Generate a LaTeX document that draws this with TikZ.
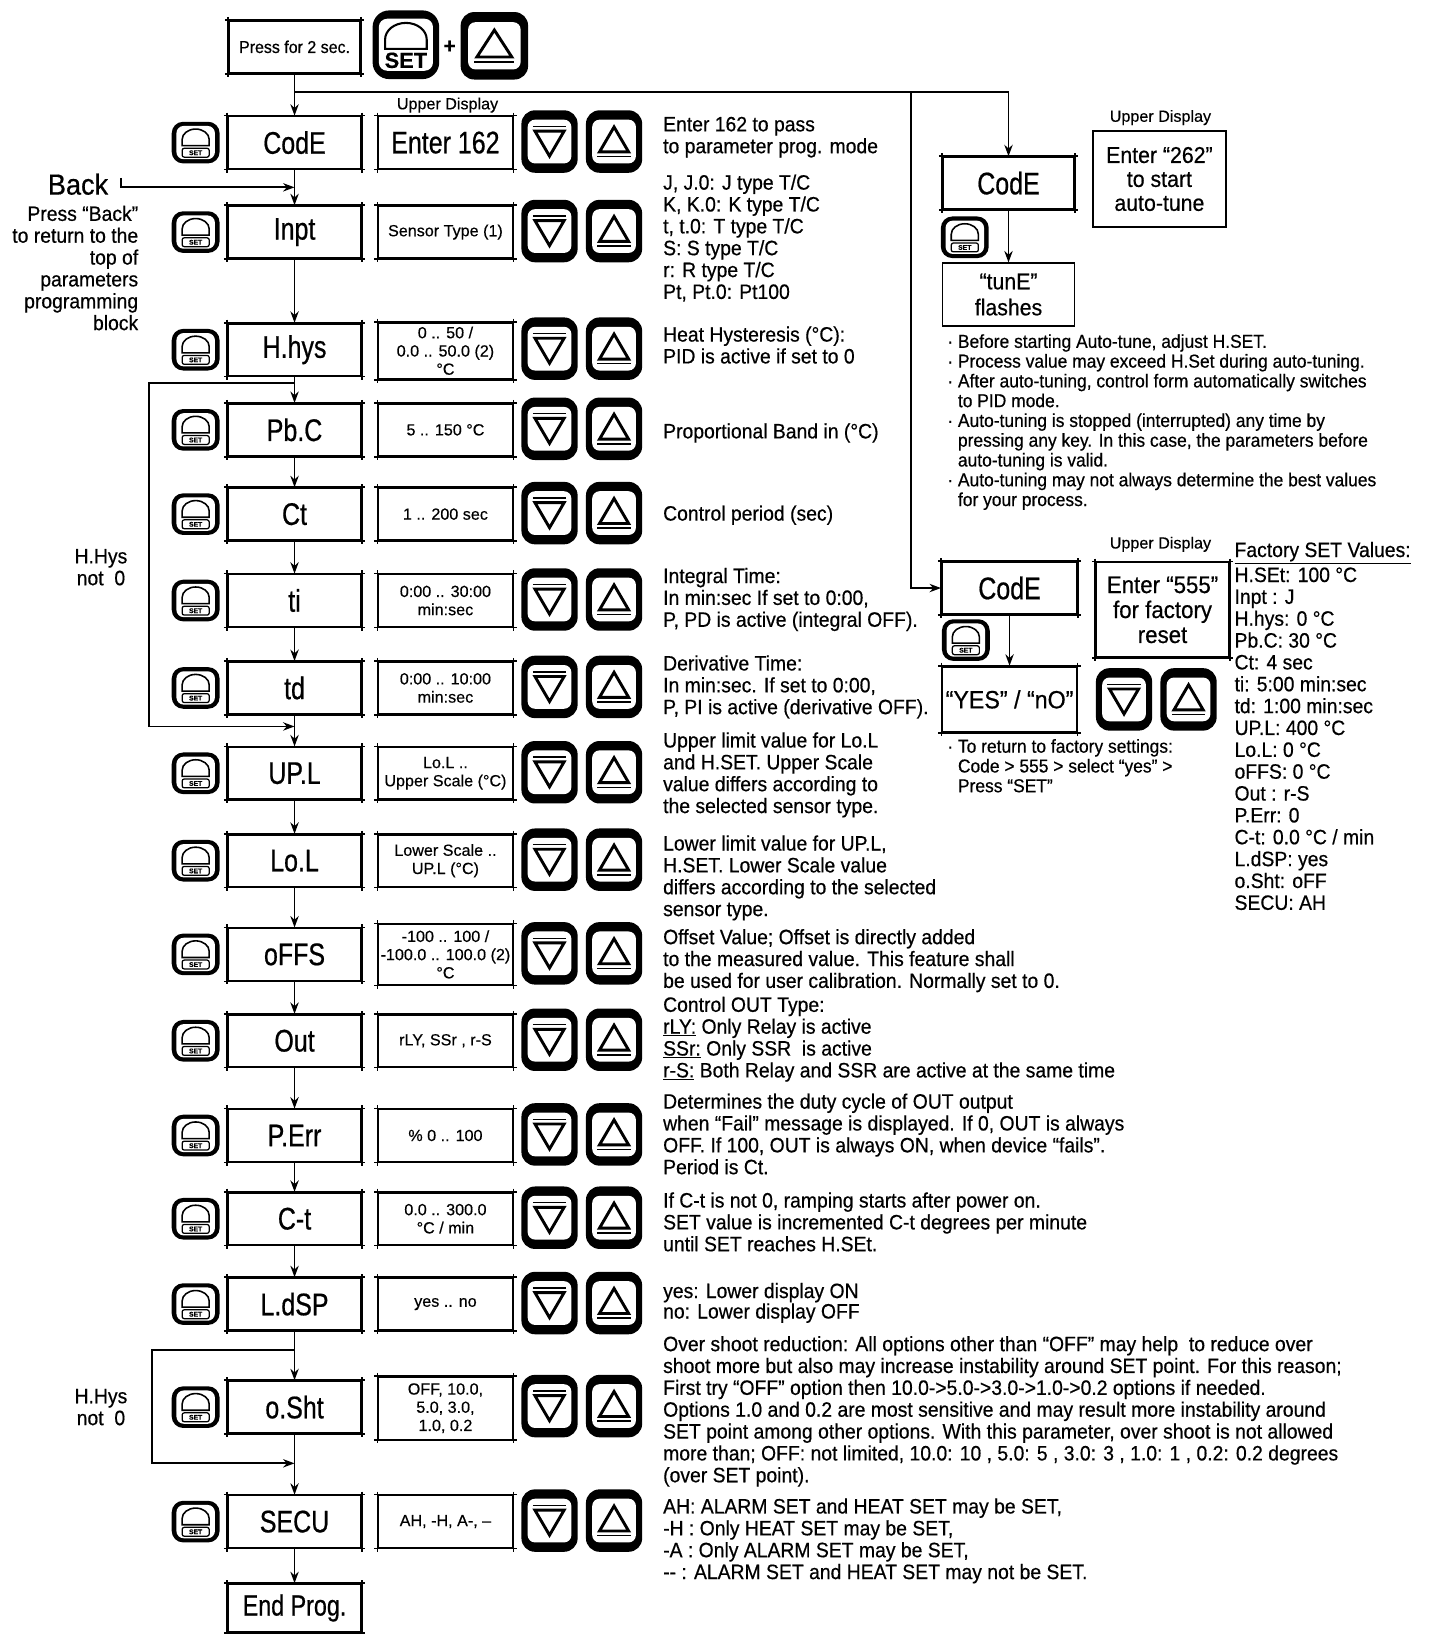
\documentclass[tikz,border=0pt]{standalone}
\usepackage{fontspec}
\setmainfont{Liberation Sans}[FakeBold=0.4]
\newfontfamily\nar[FakeStretch=0.8,FakeBold=0.6]{Liberation Sans}
\newfontfamily\narb[FakeStretch=0.93,FakeBold=0.5]{Liberation Sans}
\usetikzlibrary{arrows.meta}
\newcommand\fsz[2]{\fontsize{#1}{#2}\selectfont}
\newcommand\stt{\rule{0pt}{16pt}}
\newcommand\sttb{\rule{0pt}{14pt}}
\tikzset{
  upkey/.pic={
    \fill[rounded corners=13pt] (-27,-30) rectangle (27,30);
    \fill[white,rounded corners=7pt] (-21,-21) rectangle (21,21);
    \draw[line width=2.8pt,line join=miter] (0,-14) -- (14,10) -- (-14,10) -- cycle;
    \draw[line width=1.4pt] (-16,14.5) -- (16,14.5);
  },
  downkey/.pic={
    \fill[rounded corners=13pt] (-27,-30) rectangle (27,30);
    \fill[white,rounded corners=7pt] (-21,-21) rectangle (21,21);
    \draw[line width=2.8pt,line join=miter] (0,14) -- (14,-10) -- (-14,-10) -- cycle;
    \draw[line width=1.4pt] (-16,-14.5) -- (16,-14.5);
  },
  setkey/.pic={
    \fill[rounded corners=11pt] (-23,-20) rectangle (23,20);
    \fill[white,rounded corners=7pt] (-18.5,-16) rectangle (18.5,16);
    \draw[line width=1.5pt] (-13,3) -- (-13,-3) arc[start angle=180,end angle=360,x radius=13,y radius=10] -- (13,3) -- cycle;
    \draw[line width=1.2pt,rounded corners=2pt] (-13,5.5) rectangle (13,14);
    \node[inner sep=0pt,font=\bfseries\fsz{6.5}{7}] (setlbl) at (0,9.8) {SET};
  },
  bigsetkey/.pic={
    \fill[rounded corners=16pt] (-32,-33) rectangle (32,33);
    \fill[white,rounded corners=8pt] (-26,-25) rectangle (26,25);
    \draw[line width=2pt] (-20,4) -- (-20,-5) arc[start angle=180,end angle=360,x radius=20,y radius=16] -- (20,4) -- cycle;
    \node[inner sep=0pt,font=\bfseries\fsz{21}{21}] (bigsetlbl) at (0,15) {SET};
  },
  mbox/.style={draw, line width=1.7pt, minimum width=128pt, minimum height=50pt, inner sep=0pt, font=\nar\fsz{30}{30}},
  vbox/.style={draw, line width=1.7pt, minimum width=129pt, minimum height=50pt, inner sep=0pt, align=center, font=\fsz{15.5}{17.5}},
  rbox/.style={draw, line width=1.7pt, minimum width=128pt, minimum height=92pt, inner sep=0pt, align=center, font=\narb\fsz{22}{23}},
  desc/.style={anchor=north west, align=left, inner sep=0pt, font=\narb\fsz{20}{21}},
  note/.style={anchor=north west, align=left, inner sep=0pt, font=\narb\fsz{18}{19}},
  lbl/.style={inner sep=0pt, font=\fsz{15.5}{16}},
  conn/.style={line width=1.8pt, -{Stealth[length=11pt,width=8pt]}},
  tick/.style={line width=1.5pt}
}
\newcommand\prow[3]{%
  \node[mbox] (#1) at (283,#2) {#3};
  \pic at (188,#2) {setkey};
  \pic at (528,#2-1) {downkey};
  \pic at (590,#2-1) {upkey};
}
\begin{document}
\begin{tikzpicture}[x=1pt,y=-1pt]
\useasboundingbox (0,0) rectangle (1373,1570);
\fill[white] (0,0) rectangle (1373,1570);

% ---- top
\node[draw, line width=1.7pt, minimum width=126pt, minimum height=50pt, inner sep=0pt, font=\narb\fsz{16.5}{17}] (press) at (283,45) {Press for 2 sec.};
\pic at (390,43) {bigsetkey};
\node[inner sep=0pt,font=\bfseries\fsz{20}{20}] (plus) at (432,45) {+};
\pic[xscale=1.2,yscale=1.08] at (475,44) {upkey};

% ---- main column
\prow{code}{137}{CodE}
\prow{inpt}{223}{Inpt}
\prow{hhys}{336}{H.hys}
\prow{pbc}{413}{Pb.C}
\prow{ct}{494}{Ct}
\prow{ti}{577}{ti}
\prow{td}{661}{td}
\prow{upl}{743}{UP.L}
\prow{lol}{827}{Lo.L}
\prow{offs}{917}{oFFS}
\prow{out}{1000}{Out}
\prow{perr}{1091}{P.Err}
\prow{cmt}{1171}{C-t}
\prow{ldsp}{1253}{L.dSP}
\prow{osht}{1352}{o.Sht}
\prow{secu}{1462}{SECU}
\node[mbox, minimum height=46pt, font=\nar\fsz{28}{28}] (endp) at (283,1545) {End Prog.};

% ---- value boxes
\node[lbl] (ud1) at (430,101) {Upper Display};
\node[vbox,font=\nar\fsz{30}{30}] (vcode) at (428,137) {Enter 162};
\node[vbox] (vinpt) at (428,223) {Sensor Type (1)};
\node[vbox,minimum height=54pt] (vhhys) at (428,337) {0 .. 50 /\\0.0 .. 50.0 (2)\\°C};
\node[vbox] (vpbc) at (428,413) {5 .. 150 °C};
\node[vbox] (vct) at (428,494) {1 .. 200 sec};
\node[vbox] (vti) at (428,577) {0:00 .. 30:00\\min:sec};
\node[vbox] (vtd) at (428,661) {0:00 .. 10:00\\min:sec};
\node[vbox] (vupl) at (428,743) {Lo.L ..\\Upper Scale (°C)};
\node[vbox] (vlol) at (428,827) {Lower Scale ..\\UP.L (°C)};
\node[vbox,minimum height=58pt] (voffs) at (428,917) {-100 .. 100 /\\-100.0 .. 100.0 (2)\\°C};
\node[vbox] (vout) at (428,1000) {rLY, SSr , r-S};
\node[vbox] (vperr) at (428,1091) {\% 0 .. 100};
\node[vbox] (vcmt) at (428,1171) {0.0 .. 300.0\\°C / min};
\node[vbox] (vldsp) at (428,1253) {yes .. no};
\node[vbox,minimum height=60pt] (vosht) at (428,1353) {OFF, 10.0,\\5.0, 3.0,\\1.0, 0.2};
\node[vbox] (vsecu) at (428,1462) {AH, -H, A-, –};

% ---- descriptions
\node[desc] (dcode) at (637,110) {\stt Enter 162 to pass\\to parameter prog. mode};
\node[desc] (dinpt) at (637,166) {\stt J, J.0: J type T/C\\K, K.0: K type T/C\\t, t.0: T type T/C\\S: S type T/C\\r: R type T/C\\Pt, Pt.0: Pt100};
\node[desc] (dhhys) at (637,312) {\stt Heat Hysteresis (°C):\\PID is active if set to 0};
\node[desc] (dpbc) at (637,405) {\stt Proportional Band in (°C)};
\node[desc] (dct) at (637,484) {\stt Control period (sec)};
\node[desc] (dti) at (637,544) {\stt Integral Time:\\In min:sec If set to 0:00,\\P, PD is active (integral OFF).};
\node[desc] (dtd) at (637,628) {\stt Derivative Time:\\In min:sec. If set to 0:00,\\P, PI is active (derivative OFF).};
\node[desc] (dupl) at (637,702) {\stt Upper limit value for Lo.L\\and H.SET. Upper Scale\\value differs according to\\the selected sensor type.};
\node[desc] (dlol) at (637,801) {\stt Lower limit value for UP.L,\\H.SET. Lower Scale value\\differs according to the selected\\sensor type.};
\node[desc] (doffs) at (637,891) {\stt Offset Value; Offset is directly added\\to the measured value. This feature shall\\be used for user calibration. Normally set to 0.};
\node[desc] (dout) at (637,956) {\stt Control OUT Type:\\\underline{rLY:} Only Relay is active\\\underline{SSr:} Only SSR\ \ is active\\\underline{r-S:} Both Relay and SSR are active at the same time};
\node[desc] (dperr) at (637,1049) {\stt Determines the duty cycle of OUT output\\when “Fail” message is displayed. If 0, OUT is always\\OFF. If 100, OUT is always ON, when device “fails”.\\Period is Ct.};
\node[desc] (dcmt) at (637,1144) {\stt If C-t is not 0, ramping starts after power on.\\SET value is incremented C-t degrees per minute\\until SET reaches H.SEt.};
\node[desc,font=\narb\fsz{20}{18.5}] (dldsp) at (637,1231) {\stt yes: Lower display ON\\no: Lower display OFF};
\node[desc] (dosht) at (637,1282) {\stt Over shoot reduction: All options other than “OFF” may help\ \ to reduce over\\shoot more but also may increase instability around SET point. For this reason;\\First try “OFF” option then 10.0->5.0->3.0->1.0->0.2 options if needed.\\Options 1.0 and 0.2 are most sensitive and may result more instability around\\SET point among other options. With this parameter, over shoot is not allowed\\more than; OFF: not limited, 10.0: 10 , 5.0: 5 , 3.0: 3 , 1.0: 1 , 0.2: 0.2 degrees\\(over SET point).};
\node[desc] (dsecu) at (637,1438) {\stt AH: ALARM SET and HEAT SET may be SET,\\-H : Only HEAT SET may be SET,\\-A : Only ALARM SET may be SET,\\-{}- : ALARM SET and HEAT SET may not be SET.};

% ---- left side
\node[inner sep=0pt, font=\narb\fsz{28}{28}] (back) at (75,177) {Back};
\node[anchor=north east, align=right, inner sep=0pt, font=\narb\fsz{20}{21}] (pb) at (133,196) {\stt Press “Back”\\to return to the\\top of\\parameters\\programming\\block};
\node[align=center, inner sep=0pt, font=\narb\fsz{20}{21}] (hh1) at (97,545) {H.Hys\\not~~0};
\node[align=center, inner sep=0pt, font=\narb\fsz{20}{21}] (hh2) at (97,1352) {H.Hys\\not~~0};

% ---- right side: auto-tune
\node[mbox,minimum width=126pt] (rc1) at (969,176) {CodE};
\node[lbl] (ud2) at (1115,113) {Upper Display};
\node[rbox] (r262) at (1114,172) {Enter “262”\\to start\\auto-tune};
\pic at (927,228) {setkey};
\node[rbox,minimum width=127pt,minimum height=60pt,font=\narb\fsz{22}{25}] (tune) at (969,283) {“tunE”\\flashes};
\node[note] (n1) at (910,320) {\sttb · Before starting Auto-tune, adjust H.SET.\\· Process value may exceed H.Set during auto-tuning.\\· After auto-tuning, control form automatically switches\\\hphantom{· }to PID mode.\\· Auto-tuning is stopped (interrupted) any time by\\\hphantom{· }pressing any key. In this case, the parameters before\\\hphantom{· }auto-tuning is valid.\\· Auto-tuning may not always determine the best values\\\hphantom{· }for your process.};

% ---- right side: factory reset
\node[mbox,minimum width=130pt] (rc2) at (970,565) {CodE};
\node[lbl] (ud3) at (1115,523) {Upper Display};
\node[rbox,minimum height=91pt,font=\narb\fsz{23}{24}] (r555) at (1117,586) {Enter “555”\\for factory\\reset};
\pic at (928,615) {setkey};
\node[rbox,minimum width=129pt,minimum height=63pt,font=\narb\fsz{24}{24}] (yes) at (970,672) {“YES” / “nO”};
\node[note] (n2) at (910,709) {\sttb · To return to factory settings:\\\hphantom{· }Code > 555 > select “yes” >\\\hphantom{· }Press “SET”};
\pic at (1080,672) {downkey};
\pic at (1142,672) {upkey};
\node[desc] (facttitle) at (1186,519) {\stt \underline{Factory SET Values:}};
\node[desc] (fact) at (1186,543) {\stt H.SEt: 100 °C\\Inpt : J\\H.hys: 0 °C\\Pb.C: 30 °C\\Ct: 4 sec\\ti: 5:00 min:sec\\td: 1:00 min:sec\\UP.L: 400 °C\\Lo.L: 0 °C\\oFFS: 0 °C\\Out : r-S\\P.Err: 0\\C-t: 0.0 °C / min\\L.dSP: yes\\o.Sht: oFF\\SECU: AH};

% ---- corner ticks
\foreach \n in {press,code,inpt,hhys,pbc,ct,ti,td,upl,lol,offs,out,perr,cmt,ldsp,osht,secu,endp,
  vcode,vinpt,vhhys,vpbc,vct,vti,vtd,vupl,vlol,voffs,vout,vperr,vcmt,vldsp,vosht,vsecu,rc1,rc2,yes,r555}{
  \draw[tick] ([xshift=-3pt]\n.north west) -- ([xshift=3pt]\n.north east)
              ([xshift=-3pt]\n.south west) -- ([xshift=3pt]\n.south east)
              ([yshift=3pt]\n.north west) -- ([yshift=-3pt]\n.south west)
              ([yshift=3pt]\n.north east) -- ([yshift=-3pt]\n.south east);
}

% ---- connectors
\draw[conn] (press) -- (code);
\foreach \a/\b in {code/inpt,inpt/hhys,hhys/pbc,pbc/ct,ct/ti,ti/td,td/upl,upl/lol,lol/offs,offs/out,out/perr,perr/cmt,cmt/ldsp,ldsp/osht,osht/secu,secu/endp}
  \draw[conn] (\a) -- (\b);
\coordinate (j1) at (283,88);
\coordinate (j3) at (875,88);
\draw[conn] (j1) -| (rc1);
\draw[conn] (j3) |- (rc2);
\draw[conn] (rc1) -- (tune);
\draw[conn] (rc2) -- (yes);
\coordinate (bk) at (116,171);
\coordinate (bke) at (283,180);
\draw[conn] (bk) |- (bke);
\coordinate (l1s) at (283,368);
\coordinate (l1m) at (143,530);
\coordinate (l1e) at (283,698);
\draw[conn] (l1s) -| (l1m) |- (l1e);
\coordinate (l2s) at (283,1297);
\coordinate (l2m) at (146,1350);
\coordinate (l2e) at (283,1406);
\draw[conn] (l2s) -| (l2m) |- (l2e);
\end{tikzpicture}
\end{document}
